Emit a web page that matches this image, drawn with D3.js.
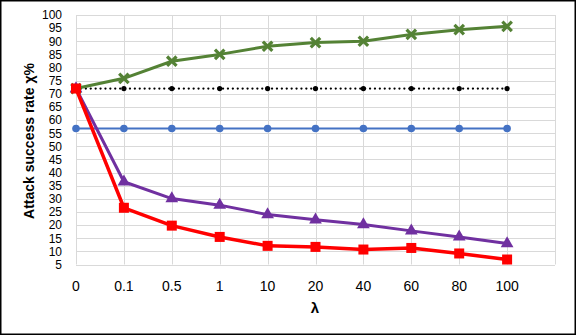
<!DOCTYPE html>
<html>
<head>
<meta charset="utf-8">
<script src="https://d3js.org/d3.v7.min.js"></script>
<style>
  body { margin: 0; background: #fff; }
  text { font-family: "Liberation Sans", Arial, sans-serif; fill: #000; }
</style>
</head>
<body>
<svg id="chart" width="577" height="336"></svg>
<script>
const lambdas = ['0', '0.1', '0.5', '1', '10', '20', '40', '60', '80', '100'];
const yTicks = d3.range(5, 101, 5);

const greenVals  = [72, 75.9, 82.4, 85.0, 88.1, 89.5, 90.0, 92.6, 94.4, 95.7];
const blackVals  = [72, 72, 72, 72, 72, 72, 72, 72, 72, 72];
const blueVals   = [56.8, 56.8, 56.8, 56.8, 56.8, 56.8, 56.8, 56.8, 56.8, 56.8];
const purpleVals = [72, 36.5, 30.1, 27.6, 24.0, 22.0, 20.2, 17.8, 15.5, 13.0];
const redVals    = [72, 26.6, 19.8, 15.5, 12.1, 11.7, 10.7, 11.3, 9.2, 6.9];

const svg = d3.select('#chart');

// frame
svg.append('rect')
    .attr('x', 0.75).attr('y', 0.75)
    .attr('width', 574.5).attr('height', 333.5)
    .attr('fill', '#fff')
    .attr('stroke', '#000')
    .attr('stroke-width', 1.5);

// x: one empty slot after the last category
const x = d3.scaleLinear()
    .domain([0, lambdas.length])
    .range([76, 555]);

const y = d3.scaleLinear()
    .domain([5, 100])
    .range([264.5, 15]);

// gridlines
svg.append('g')
    .selectAll('line.h')
    .data(yTicks)
    .enter()
    .append('line')
    .attr('x1', x(0)).attr('x2', x(lambdas.length))
    .attr('y1', d => Math.round(y(d)) + 0.5)
    .attr('y2', d => Math.round(y(d)) + 0.5)
    .attr('stroke', '#d9d9d9')
    .attr('stroke-width', 1);

svg.append('g')
    .selectAll('line.v')
    .data(d3.range(0, lambdas.length + 1))
    .enter()
    .append('line')
    .attr('x1', d => Math.round(x(d)) + 0.5)
    .attr('x2', d => Math.round(x(d)) + 0.5)
    .attr('y1', y(100)).attr('y2', y(5))
    .attr('stroke', '#d9d9d9')
    .attr('stroke-width', 1);

// y tick labels
svg.append('g')
    .selectAll('text')
    .data(yTicks)
    .enter()
    .append('text')
    .attr('x', 62)
    .attr('y', d => y(d))
    .attr('dy', '0.36em')
    .attr('text-anchor', 'end')
    .style('font-size', '12px')
    .text(d => d);

// x tick labels
svg.append('g')
    .selectAll('text')
    .data(lambdas)
    .enter()
    .append('text')
    .attr('x', (d, i) => x(i))
    .attr('y', 291)
    .attr('text-anchor', 'middle')
    .style('font-size', '14px')
    .text(d => d);

// axis titles
svg.append('text')
    .attr('x', 315)
    .attr('y', 313)
    .attr('text-anchor', 'middle')
    .style('font-size', '15px')
    .style('font-weight', 'bold')
    .text('λ');

svg.append('text')
    .attr('transform', 'translate(34,141) rotate(-90)')
    .attr('text-anchor', 'middle')
    .style('font-size', '14px')
    .style('font-weight', 'bold')
    .text('Attack success rate χ%');

const line = d3.line()
    .x((d, i) => x(i))
    .y(d => y(d));

function drawLine(vals, color, width, dash) {
    const p = svg.append('path')
        .attr('d', line(vals))
        .attr('fill', 'none')
        .attr('stroke', color)
        .attr('stroke-width', width)
        .attr('stroke-linejoin', 'round');
    if (dash) p.attr('stroke-dasharray', dash).attr('stroke-linecap', 'round');
}

// blue
drawLine(blueVals, '#4472c4', 2);
svg.append('g').selectAll('circle')
    .data(blueVals).enter().append('circle')
    .attr('cx', (d, i) => x(i)).attr('cy', d => y(d))
    .attr('r', 3.8).attr('fill', '#4472c4');

// black dotted
drawLine(blackVals, '#000', 2.2, '0.1,4.8');
svg.append('g').selectAll('circle')
    .data(blackVals).enter().append('circle')
    .attr('cx', (d, i) => x(i)).attr('cy', d => y(d))
    .attr('r', 2.6).attr('fill', '#000');

// green with x markers
drawLine(greenVals, '#548235', 3);
const cross = d3.symbol().type(d3.symbolX).size(60);
svg.append('g').selectAll('path')
    .data(greenVals).enter().append('path')
    .attr('d', cross)
    .attr('transform', (d, i) => `translate(${x(i)},${y(d)})`)
    .attr('fill', 'none')
    .attr('stroke', '#548235')
    .attr('stroke-width', 3.2);

// purple triangles
drawLine(purpleVals, '#7030a0', 3);
const tri = d3.symbol().type(d3.symbolTriangle).size(70);
svg.append('g').selectAll('path')
    .data(purpleVals).enter().append('path')
    .attr('d', tri)
    .attr('transform', (d, i) => `translate(${x(i)},${y(d)})`)
    .attr('fill', '#7030a0');

// red squares
drawLine(redVals, '#ff0000', 3.5);
svg.append('g').selectAll('rect')
    .data(redVals).enter().append('rect')
    .attr('x', (d, i) => x(i) - 5).attr('y', d => y(d) - 5)
    .attr('width', 10).attr('height', 10)
    .attr('fill', '#ff0000');
</script>
</body>
</html>
